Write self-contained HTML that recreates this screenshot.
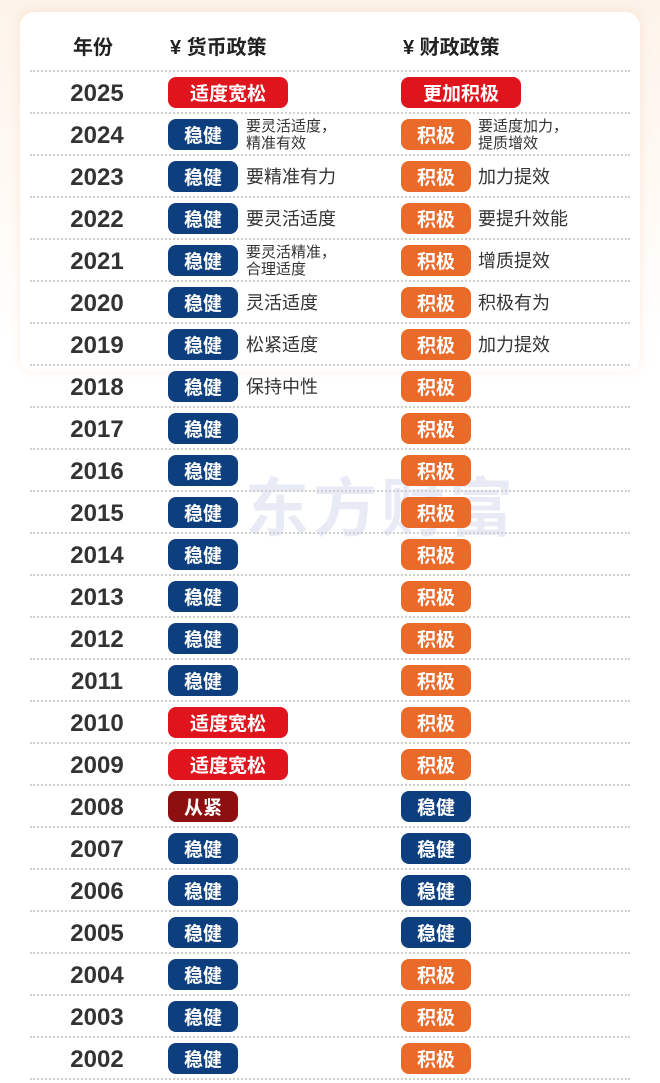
<!DOCTYPE html>
<html><head><meta charset="utf-8"><style>
*{margin:0;padding:0;box-sizing:border-box}
body{width:660px;height:1083px;background:#fff;position:relative;overflow:hidden;font-family:"Liberation Sans","Noto Sans CJK SC",sans-serif}
.bg{position:absolute;left:0;top:0;width:660px;height:340px;background:linear-gradient(#fdf3ea,#fffaf5 60%,#fff)}
.card{position:absolute;left:20px;top:12px;width:620px;height:360px;background:linear-gradient(#fff 85%,rgba(255,255,255,0));border-radius:14px;box-shadow:0 -2px 10px rgba(240,200,170,.35)}
.h{position:absolute;top:34px;font-size:20px;font-weight:bold;color:#222;line-height:28px}
.sep{position:absolute;left:30px;width:600px;border-top:2px dotted #cfcfcf;height:0}
.r{position:absolute;left:0;width:660px;height:42px}
.y{position:absolute;left:58px;width:78px;text-align:center;top:8px;font-size:24px;font-weight:bold;color:#333;line-height:30px}
.b{position:absolute;top:6px;height:31px;border-radius:8px;color:#fff;font-weight:bold;font-size:19px;line-height:31px;text-align:center;font-family:"Noto Sans CJK SC",sans-serif}
.m{left:168px}.f{left:401px}
.s{width:70px}.w{width:120px}
.bl{background:#0d3f7f}.or{background:#ea6a2a}.rd{background:#e0141d}.dr{background:#8e0f10}
.t{position:absolute;top:7px;font-size:18px;color:#333;line-height:28px;font-family:"Noto Sans CJK SC",sans-serif}
.t2{position:absolute;top:4px;font-size:15px;color:#333;line-height:17px;font-family:"Noto Sans CJK SC",sans-serif}
.tm{left:246px}.tf{left:478px}
.wm{position:absolute;left:245px;top:458px;font-size:64px;font-weight:bold;color:rgba(180,190,225,.3);letter-spacing:4px;font-family:"Noto Sans CJK SC",sans-serif}
</style></head><body>
<div class="bg"></div><div class="card"></div>
<div class="h" style="left:73px">年份</div>
<div class="h" style="left:170px">¥ 货币政策</div>
<div class="h" style="left:403px">¥ 财政政策</div>
<div class="wm">东方财富</div>

<div class="sep" style="top:70px"></div><div class="sep" style="top:112px"></div><div class="sep" style="top:154px"></div><div class="sep" style="top:196px"></div><div class="sep" style="top:238px"></div><div class="sep" style="top:280px"></div><div class="sep" style="top:322px"></div><div class="sep" style="top:364px"></div><div class="sep" style="top:406px"></div><div class="sep" style="top:448px"></div><div class="sep" style="top:490px"></div><div class="sep" style="top:532px"></div><div class="sep" style="top:574px"></div><div class="sep" style="top:616px"></div><div class="sep" style="top:658px"></div><div class="sep" style="top:700px"></div><div class="sep" style="top:742px"></div><div class="sep" style="top:784px"></div><div class="sep" style="top:826px"></div><div class="sep" style="top:868px"></div><div class="sep" style="top:910px"></div><div class="sep" style="top:952px"></div><div class="sep" style="top:994px"></div><div class="sep" style="top:1036px"></div><div class="sep" style="top:1078px"></div>

<div class="r" style="top:71px"><div class="y">2025</div><div class="b m w rd">适度宽松</div><div class="b f w rd">更加积极</div></div>
<div class="r" style="top:113px"><div class="y">2024</div><div class="b m s bl">稳健</div><div class="t2 tm">要灵活适度，<br>精准有效</div><div class="b f s or">积极</div><div class="t2 tf">要适度加力，<br>提质增效</div></div>
<div class="r" style="top:155px"><div class="y">2023</div><div class="b m s bl">稳健</div><div class="t tm">要精准有力</div><div class="b f s or">积极</div><div class="t tf">加力提效</div></div>
<div class="r" style="top:197px"><div class="y">2022</div><div class="b m s bl">稳健</div><div class="t tm">要灵活适度</div><div class="b f s or">积极</div><div class="t tf">要提升效能</div></div>
<div class="r" style="top:239px"><div class="y">2021</div><div class="b m s bl">稳健</div><div class="t2 tm">要灵活精准，<br>合理适度</div><div class="b f s or">积极</div><div class="t tf">增质提效</div></div>
<div class="r" style="top:281px"><div class="y">2020</div><div class="b m s bl">稳健</div><div class="t tm">灵活适度</div><div class="b f s or">积极</div><div class="t tf">积极有为</div></div>
<div class="r" style="top:323px"><div class="y">2019</div><div class="b m s bl">稳健</div><div class="t tm">松紧适度</div><div class="b f s or">积极</div><div class="t tf">加力提效</div></div>
<div class="r" style="top:365px"><div class="y">2018</div><div class="b m s bl">稳健</div><div class="t tm">保持中性</div><div class="b f s or">积极</div></div>
<div class="r" style="top:407px"><div class="y">2017</div><div class="b m s bl">稳健</div><div class="b f s or">积极</div></div>
<div class="r" style="top:449px"><div class="y">2016</div><div class="b m s bl">稳健</div><div class="b f s or">积极</div></div>
<div class="r" style="top:491px"><div class="y">2015</div><div class="b m s bl">稳健</div><div class="b f s or">积极</div></div>
<div class="r" style="top:533px"><div class="y">2014</div><div class="b m s bl">稳健</div><div class="b f s or">积极</div></div>
<div class="r" style="top:575px"><div class="y">2013</div><div class="b m s bl">稳健</div><div class="b f s or">积极</div></div>
<div class="r" style="top:617px"><div class="y">2012</div><div class="b m s bl">稳健</div><div class="b f s or">积极</div></div>
<div class="r" style="top:659px"><div class="y">2011</div><div class="b m s bl">稳健</div><div class="b f s or">积极</div></div>
<div class="r" style="top:701px"><div class="y">2010</div><div class="b m w rd">适度宽松</div><div class="b f s or">积极</div></div>
<div class="r" style="top:743px"><div class="y">2009</div><div class="b m w rd">适度宽松</div><div class="b f s or">积极</div></div>
<div class="r" style="top:785px"><div class="y">2008</div><div class="b m s dr">从紧</div><div class="b f s bl">稳健</div></div>
<div class="r" style="top:827px"><div class="y">2007</div><div class="b m s bl">稳健</div><div class="b f s bl">稳健</div></div>
<div class="r" style="top:869px"><div class="y">2006</div><div class="b m s bl">稳健</div><div class="b f s bl">稳健</div></div>
<div class="r" style="top:911px"><div class="y">2005</div><div class="b m s bl">稳健</div><div class="b f s bl">稳健</div></div>
<div class="r" style="top:953px"><div class="y">2004</div><div class="b m s bl">稳健</div><div class="b f s or">积极</div></div>
<div class="r" style="top:995px"><div class="y">2003</div><div class="b m s bl">稳健</div><div class="b f s or">积极</div></div>
<div class="r" style="top:1037px"><div class="y">2002</div><div class="b m s bl">稳健</div><div class="b f s or">积极</div></div>
</body></html>
